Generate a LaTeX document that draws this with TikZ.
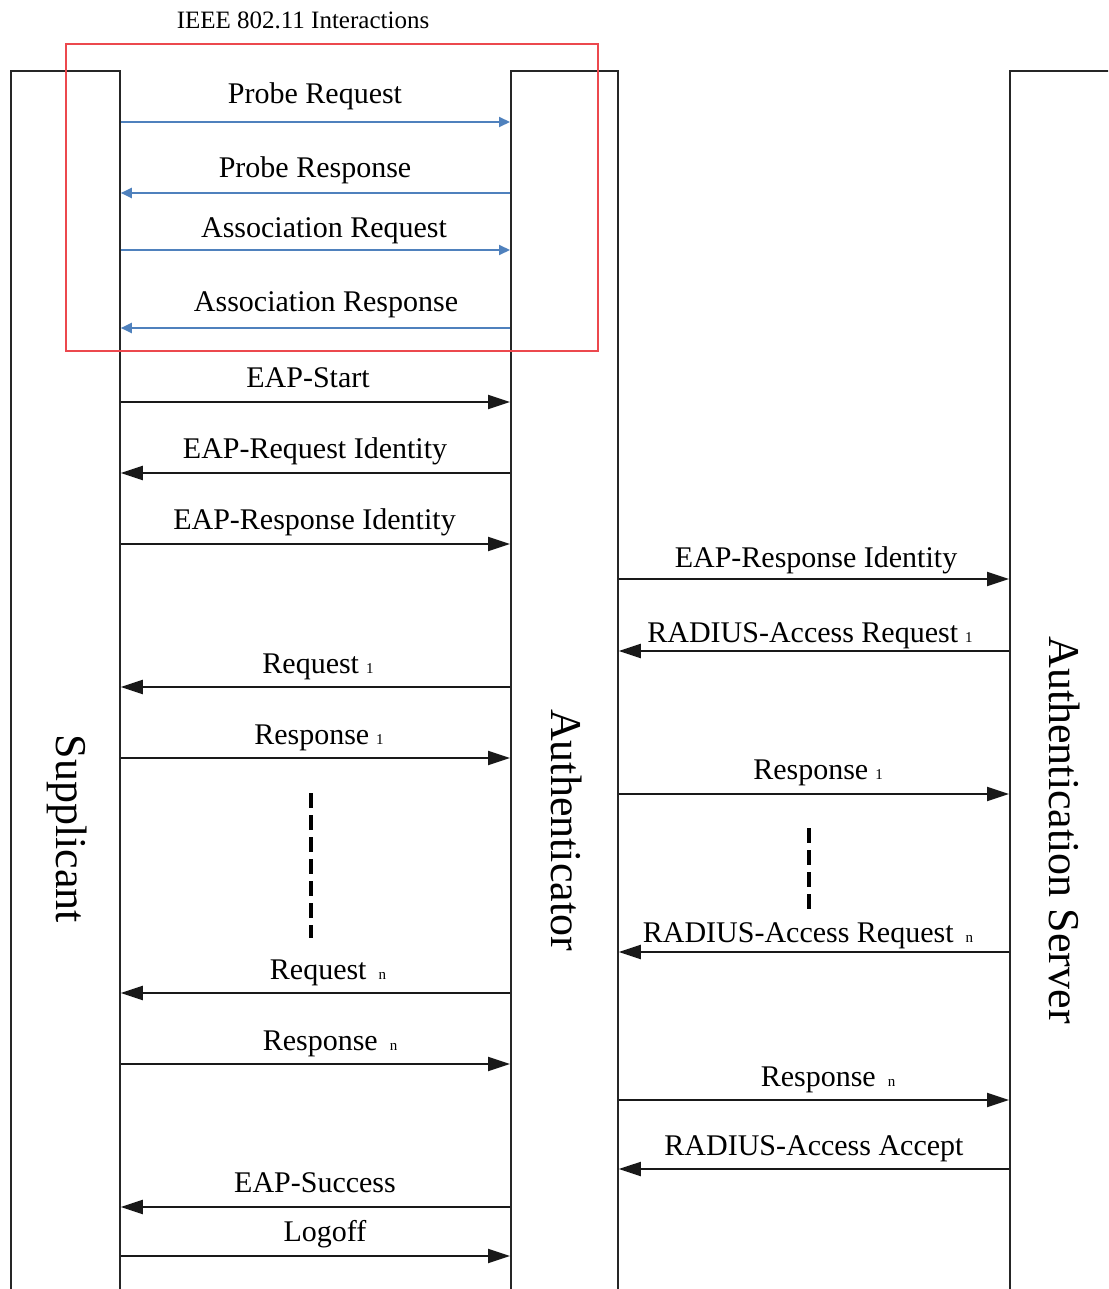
\documentclass[tikz,border=0pt]{standalone}
\usepackage{fontspec}
\setmainfont{Liberation Serif}
\usetikzlibrary{arrows.meta}
\definecolor{msgblue}{RGB}{79,129,189}
\definecolor{boxred}{RGB}{236,72,78}
\newcommand\idx[1]{{\fontsize{15}{15}\selectfont #1}}
\begin{document}
\begin{tikzpicture}[x=1pt,y=-1pt,
  lifebox/.style={draw=black!85, line width=1.8pt, anchor=north west,
    minimum height=1400pt, inner sep=0pt},
  msg/.style={draw=black!90, line width=2pt, -{Triangle[length=22pt,width=14pt]}},
  wmsg/.style={draw=msgblue, line width=2pt, -{Triangle[length=11pt,width=10pt]}},
  lbl/.style={anchor=base, inner sep=0pt, font=\fontsize{30}{35}\selectfont},
  role/.style={rotate=-90, inner sep=0pt, font=\fontsize{44}{50}\selectfont},
  dotted gap/.style={draw=black, line width=4pt, dash pattern=on 15pt off 7pt}
]
\clip (0,0) rectangle (1108,1289);
\fill[white] (0,0) rectangle (1108,1289);

% lifeline boxes (open at the bottom)
\node[lifebox, minimum width=109pt] (sup) at (10,70) {};
\node[lifebox, minimum width=107pt] (auth) at (510,70) {};
\node[lifebox, minimum width=160pt] (srv) at (1009,70) {};

\node[role] (supl) at (67,829) {Supplicant};
\node[role] (authl) at (567,830) {Authenticator};
\node[role] (srvl) at (1065,830) {Authentication Server};

% IEEE 802.11 frame
\node[draw=boxred, line width=2pt, anchor=north west, inner sep=0pt,
  minimum width=532pt, minimum height=307pt] (wifi) at (65,43) {};
\node[anchor=base, inner sep=0pt, font=\fontsize{25}{30}\selectfont] (title)
  at (303,29) {IEEE 802.11 Interactions};

% 802.11 exchange
\draw[wmsg] (sup.east |- 0,122) -- (auth.west |- 0,122);
\node[lbl] (m1) at (315,104) {Probe Request};
\draw[wmsg] (auth.west |- 0,193) -- (sup.east |- 0,193);
\node[lbl] (m2) at (315,178) {Probe Response};
\draw[wmsg] (sup.east |- 0,250) -- (auth.west |- 0,250);
\node[lbl] (m3) at (324,237) {Association Request};
\draw[wmsg] (auth.west |- 0,328) -- (sup.east |- 0,328);
\node[lbl] (m4) at (326,311) {Association Response};

% supplicant <-> authenticator
\draw[msg] (sup.east |- 0,402) -- (auth.west |- 0,402);
\node[lbl] (e1) at (308,387) {EAP-Start};
\draw[msg] (auth.west |- 0,473) -- (sup.east |- 0,473);
\node[lbl] (e2) at (315,458) {EAP-Request Identity};
\draw[msg] (sup.east |- 0,544) -- (auth.west |- 0,544);
\node[lbl] (e3) at (314.5,529) {EAP-Response Identity};
\draw[msg] (auth.west |- 0,687) -- (sup.east |- 0,687);
\node[lbl] (e4) at (318,673) {Request\hspace{7pt}\idx{1}};
\draw[msg] (sup.east |- 0,758) -- (auth.west |- 0,758);
\node[lbl] (e5) at (319,744) {Response\hspace{7pt}\idx{1}};
\draw[msg] (auth.west |- 0,993) -- (sup.east |- 0,993);
\node[lbl] (e6) at (328,979) {Request\hspace{12pt}\idx{n}};
\draw[msg] (sup.east |- 0,1064) -- (auth.west |- 0,1064);
\node[lbl] (e7) at (330,1050) {Response\hspace{12pt}\idx{n}};
\draw[msg] (auth.west |- 0,1207) -- (sup.east |- 0,1207);
\node[lbl] (e8) at (315,1192) {EAP-Success};
\draw[msg] (sup.east |- 0,1256) -- (auth.west |- 0,1256);
\node[lbl] (e9) at (325,1241) {Logoff};

% authenticator <-> authentication server
\draw[msg] (auth.east |- 0,579) -- (srv.west |- 0,579);
\node[lbl] (r1) at (816,567) {EAP-Response Identity};
\draw[msg] (srv.west |- 0,651) -- (auth.east |- 0,651);
\node[lbl] (r2) at (810,642) {RADIUS-Access Request\hspace{7pt}\idx{1}};
\draw[msg] (auth.east |- 0,794) -- (srv.west |- 0,794);
\node[lbl] (r3) at (818,779) {Response\hspace{7pt}\idx{1}};
\draw[msg] (srv.west |- 0,952) -- (auth.east |- 0,952);
\node[lbl] (r4) at (808,942) {RADIUS-Access Request\hspace{12pt}\idx{n}};
\draw[msg] (auth.east |- 0,1100) -- (srv.west |- 0,1100);
\node[lbl] (r5) at (828,1086) {Response\hspace{12pt}\idx{n}};
\draw[msg] (srv.west |- 0,1169) -- (auth.east |- 0,1169);
\node[lbl] (r6) at (814,1155) {RADIUS-Access Accept};

% omitted rounds
\coordinate (g1a) at (311,793);
\coordinate (g1b) at (311,938);
\draw[dotted gap] (g1a) -- (g1b);
\coordinate (g2a) at (809,828);
\coordinate (g2b) at (809,910);
\draw[dotted gap] (g2a) -- (g2b);
\end{tikzpicture}
\end{document}
